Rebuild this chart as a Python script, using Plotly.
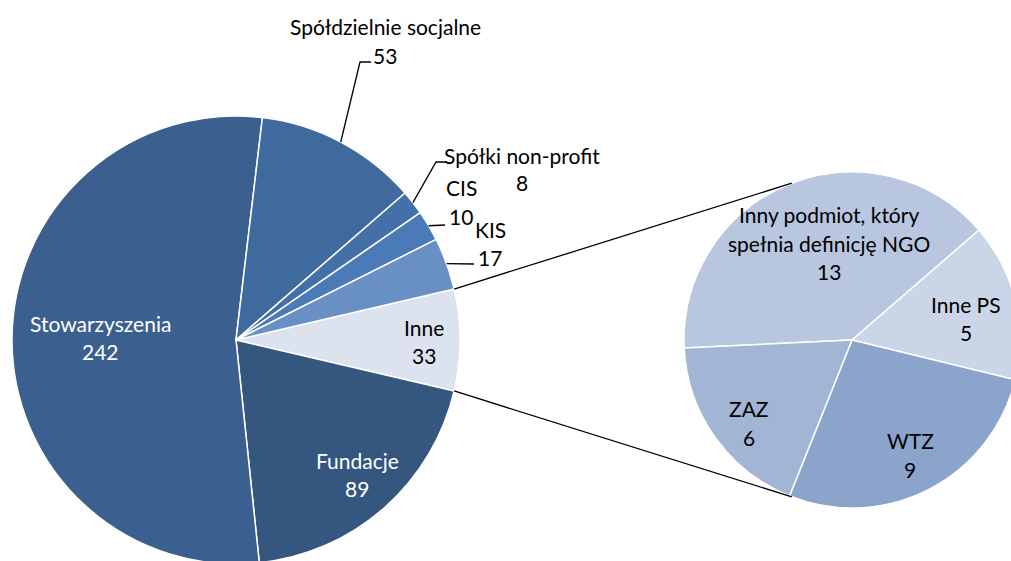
import math
import plotly.graph_objects as go

# ---------------- data ----------------
main_labels = ["Inne", "Fundacje", "Stowarzyszenia", "Spółdzielnie socjalne",
               "Spółki non-profit", "CIS", "KIS"]
main_values = [33, 89, 242, 53, 8, 10, 17]

sub_labels = ["Inny podmiot, który<br>spełnia definicję NGO", "Inne PS", "WTZ", "ZAZ"]
sub_values = [13, 5, 9, 6]

# ---------------- style ----------------
main_colors = ["#DCE2EE", "#34567F", "#3B5F8E", "#3F6A9E", "#4470A8", "#4A7BB6", "#6890C4"]
sub_colors = ["#B8C6DF", "#CBD5E8", "#8AA4CC", "#A2B5D5"]
main_text_colors = ["black", "white", "white", "black", "black", "black", "black"]

W, H = 1021, 565          # page viewport is 1011x561; the overflow is clipped like the original
FONT = "Lato"
FS = 21
LINE_GAP = 28

MC, MR = (236, 340), 224      # main pie centre / radius (px)
SC, SR = (852, 340), 168      # second pie centre / radius (px)
SUB_START = 182.7             # math angle where first sub slice starts (deg)
CONNECT_ANGLE = 111           # where connector lines meet second pie (deg)

# label centres (px)
main_label_pos = [(424, 341), (357, 474), (100, 337), (385, 41), (522, 169), (461, 202), (490, 243)]
sub_label_pos = [(829, 243), (966, 318), (910, 455), (749, 423)]
# leader line end points for outside labels (px), keyed by index
leaders = {3: [(360, 62), (371, 62)], 4: [(436, 162), (446, 162)],
           5: [(445, 225)], 6: [(474, 264)]}


def px(x, y):
    return x / W, 1 - y / H


def domain(c, r):
    x0, y0 = px(c[0] - r, c[1] + r)
    x1, y1 = px(c[0] + r, c[1] - r)
    return dict(x=[max(0, x0), min(1, x1)], y=[max(0, y0), min(1, y1)])


total = sum(main_values)
half = main_values[0] / total * 180.0   # first slice centred on 3 o'clock

fig = go.Figure()
fig.add_trace(go.Pie(
    labels=main_labels, values=main_values, sort=False, direction="clockwise",
    rotation=90 - half, textinfo="none", hoverinfo="label+value",
    marker=dict(colors=main_colors, line=dict(color="white", width=1.5)),
    domain=domain(MC, MR), showlegend=False))

fig.add_trace(go.Pie(
    labels=sub_labels, values=sub_values, sort=False, direction="clockwise",
    rotation=90 - SUB_START, textinfo="none", hoverinfo="label+value",
    marker=dict(colors=sub_colors, line=dict(color="white", width=1.5)),
    domain=domain(SC, SR), showlegend=False))

annotations = []


def add_label(text, value, pos, color):
    lines = text.split("<br>") + [str(value)]
    n = len(lines)
    for i, ln in enumerate(lines):
        y = pos[1] + (i - (n - 1) / 2) * LINE_GAP
        xx, yy = px(pos[0], y)
        annotations.append(dict(x=xx, y=yy, xref="paper", yref="paper", text=ln,
                                showarrow=False, xanchor="center", yanchor="middle",
                                font=dict(family=FONT, size=FS, color=color)))


for lab, val, pos, col in zip(main_labels, main_values, main_label_pos, main_text_colors):
    add_label(lab, val, pos, col)
for lab, val, pos in zip(sub_labels, sub_values, sub_label_pos):
    add_label(lab, val, pos, "black")

shapes = []
# leader lines
cum = 0.0
mids = []
for v in main_values:
    mids.append(half - (cum + v / 2) / total * 360)
    cum += v
for idx, pts in leaders.items():
    a = math.radians(mids[idx])
    x0, y0 = MC[0] + MR * math.cos(a), MC[1] - MR * math.sin(a)
    path_pts = [(x0, y0)] + pts
    p = "M " + " L ".join(f"{px(x, y)[0]},{px(x, y)[1]}" for x, y in path_pts)
    shapes.append(dict(type="path", path=p, xref="paper", yref="paper",
                       line=dict(color="black", width=1.3)))

# connector lines
for sgn in (1, -1):
    a = math.radians(sgn * half)
    x0, y0 = MC[0] + MR * math.cos(a), MC[1] - MR * math.sin(a)
    b = math.radians(sgn * CONNECT_ANGLE)
    x1, y1 = SC[0] + SR * math.cos(b), SC[1] - SR * math.sin(b)
    (a0, b0), (a1, b1) = px(x0, y0), px(x1, y1)
    shapes.append(dict(type="line", x0=a0, y0=b0, x1=a1, y1=b1, xref="paper", yref="paper",
                       line=dict(color="black", width=1.3)))

fig.update_layout(width=W, height=H, margin=dict(l=0, r=0, t=0, b=0),
                  paper_bgcolor="white", plot_bgcolor="white",
                  annotations=annotations, shapes=shapes)

fig.write_html("out.html",
               config={"displayModeBar": False},
               post_script="document.body.style.margin='0px';"
                           "document.body.style.overflow='hidden';"
                           "document.documentElement.style.overflow='hidden';")
